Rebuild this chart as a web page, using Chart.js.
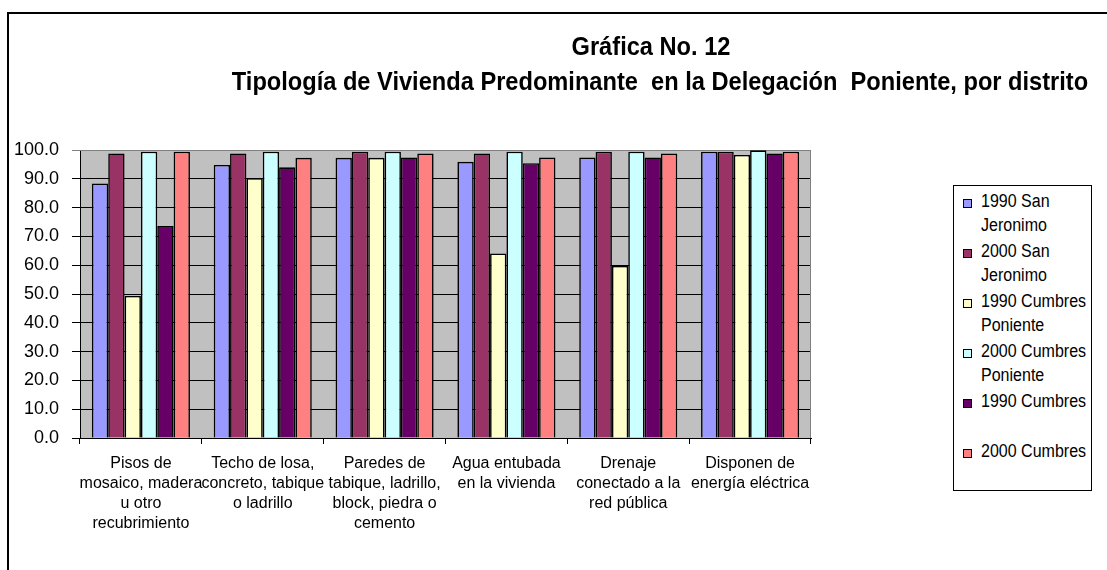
<!DOCTYPE html>
<html>
<head>
<meta charset="utf-8">
<script src="https://cdn.jsdelivr.net/npm/chart.js@4.4.1/dist/chart.umd.min.js"></script>
<style>
  html, body { margin: 0; padding: 0; background: #fff; }
  #wrap { position: relative; width: 1107px; height: 570px; overflow: hidden; }
  #frame { position: absolute; left: 7px; top: 12px; right: -10px; bottom: -10px;
           border-top: 2px solid #000; border-left: 2px solid #000; }
  #chart { position: absolute; left: 0; top: 0; }
  .title { position: absolute; font-family: "Liberation Sans", Arial, sans-serif;
           font-weight: bold; font-size: 25px; white-space: pre; color: #000;
           transform: translateX(-50%) scaleX(0.945); line-height: 28px; }
  #legend { position: absolute; left: 953px; top: 185px; width: 139px; height: 306px;
            border: 1px solid #000; box-sizing: border-box; background: #fff; }
  .item { position: absolute; left: 0; }
  .swatch { position: absolute; left: 9px; top: 10px; width: 7px; height: 7px; border: 1px solid #000; }
  .text { position: absolute; left: 27px; top: 0; font-family: "Liberation Sans", Arial, sans-serif;
          font-size: 18px; line-height: 24px; white-space: nowrap; color: #000;
          transform: scaleX(0.89); transform-origin: 0 0; }
</style>
</head>
<body>
<div id="wrap">
  <div id="frame"></div>
  <canvas id="chart" width="1107" height="570"></canvas>
  <div class="title" style="left:651px; top:32px;">Gráfica No. 12</div>
  <div class="title" style="left:660px; top:67px;">Tipología de Vivienda Predominante  en la Delegación  Poniente, por distrito</div>
  <div id="legend"></div>
</div>
<script>
// Housing characteristics (x-axis categories, wrapped as drawn)
const categories = [
  ["Pisos de", "mosaico, madera", "u otro", "recubrimiento"],
  ["Techo de losa,", "concreto, tabique", "o ladrillo"],
  ["Paredes de", "tabique, ladrillo,", "block, piedra o", "cemento"],
  ["Agua entubada", "en la vivienda"],
  ["Drenaje", "conectado a la", "red pública"],
  ["Disponen de", "energía eléctrica"]
];

// Percentage of dwellings per district and census year
const sanJeronimo1990      = [88.4, 94.8, 97.3, 95.9, 97.4, 99.4];
const sanJeronimo2000      = [98.8, 98.8, 99.4, 98.8, 99.4, 99.4];
const cumbresPoniente1990  = [49.3, 90.2, 97.3, 64.1, 59.8, 98.3];
const cumbresPoniente2000  = [99.4, 99.4, 99.4, 99.4, 99.4, 99.9];
const cumbres1990          = [73.6, 94.0, 97.4, 95.4, 97.4, 98.8];
const cumbres2000          = [99.4, 97.3, 98.8, 97.4, 98.8, 99.4];

// Series names (legend lines) and colours
const seriesNames = [
  ["1990 San", "Jeronimo"],
  ["2000 San", "Jeronimo"],
  ["1990 Cumbres", "Poniente"],
  ["2000 Cumbres", "Poniente"],
  ["1990 Cumbres"],
  ["2000 Cumbres"]
];
const seriesColors = ["#9999FF", "#993366", "#FFFFCC", "#CCFFFF", "#660066", "#FF8080"];
const seriesValues = [sanJeronimo1990, sanJeronimo2000, cumbresPoniente1990,
                      cumbresPoniente2000, cumbres1990, cumbres2000];

// Y-axis tick values
const yTicks = [0, 10, 20, 30, 40, 50, 60, 70, 80, 90, 100];

const plotBackground = {
  id: 'plotBackground',
  beforeDraw(chart) {
    const { ctx, chartArea: a } = chart;
    ctx.save();
    ctx.fillStyle = '#C0C0C0';
    ctx.fillRect(a.left, a.top, a.right - a.left, a.bottom - a.top);
    ctx.restore();
  },
  beforeDatasetsDraw(chart) {
    const { ctx, chartArea: a } = chart;
    ctx.save();
    ctx.strokeStyle = '#808080';
    ctx.lineWidth = 1;
    ctx.beginPath();
    ctx.moveTo(a.left, a.top + 0.5);
    ctx.lineTo(a.right - 0.5, a.top + 0.5);
    ctx.lineTo(a.right - 0.5, a.bottom);
    ctx.stroke();
    ctx.restore();
  }
};

const sans = '"Liberation Sans", Arial, sans-serif';

new Chart(document.getElementById('chart'), {
  type: 'bar',
  data: {
    labels: categories,
    datasets: seriesValues.map((vals, i) => ({
      label: seriesNames[i].join(' '),
      data: vals,
      backgroundColor: seriesColors[i],
      borderColor: '#000',
      borderWidth: 1.6,
      borderSkipped: 'bottom',
      categoryPercentage: 0.805,
      barPercentage: 1.0
    }))
  },
  options: {
    responsive: false,
    animation: false,
    devicePixelRatio: 1,
    layout: { padding: { left: 0, top: 150, right: 296, bottom: 0 } },
    plugins: {
      legend: { display: false },
      title: { display: false },
      tooltip: { enabled: false }
    },
    scales: {
      x: {
        offset: true,
        afterFit(scale) { scale.height = 132; },
        grid: { drawOnChartArea: false, drawTicks: true, tickLength: 6, color: '#000', lineWidth: 1 },
        border: { display: true, color: '#000', width: 1 },
        ticks: {
          color: '#000',
          padding: 10,
          maxRotation: 0,
          autoSkip: false,
          font: { family: sans, size: 16, lineHeight: 1.25 }
        }
      },
      y: {
        min: 0,
        max: 100,
        afterFit(scale) { scale.width = 80; },
        afterBuildTicks(scale) { scale.ticks = yTicks.map(v => ({ value: v })); },
        grid: {
          color: (c) => (c.tick && c.tick.value === 100) ? '#808080' : '#000',
          lineWidth: 1,
          drawTicks: true,
          tickLength: 8
        },
        border: { display: true, color: '#000', width: 1 },
        ticks: {
          color: '#000',
          padding: 13,
          font: { family: sans, size: 18 },
          callback: (v) => Number(v).toFixed(1)
        }
      }
    }
  },
  plugins: [plotBackground]
});

// Legend box
const legend = document.getElementById('legend');
seriesNames.forEach((lines, i) => {
  const item = document.createElement('div');
  item.className = 'item';
  item.style.top = (3 + i * 50) + 'px';
  const sw = document.createElement('div');
  sw.className = 'swatch';
  sw.style.background = seriesColors[i];
  const tx = document.createElement('div');
  tx.className = 'text';
  tx.innerHTML = lines.join('<br>');
  item.appendChild(sw);
  item.appendChild(tx);
  legend.appendChild(item);
});
</script>
</body>
</html>
